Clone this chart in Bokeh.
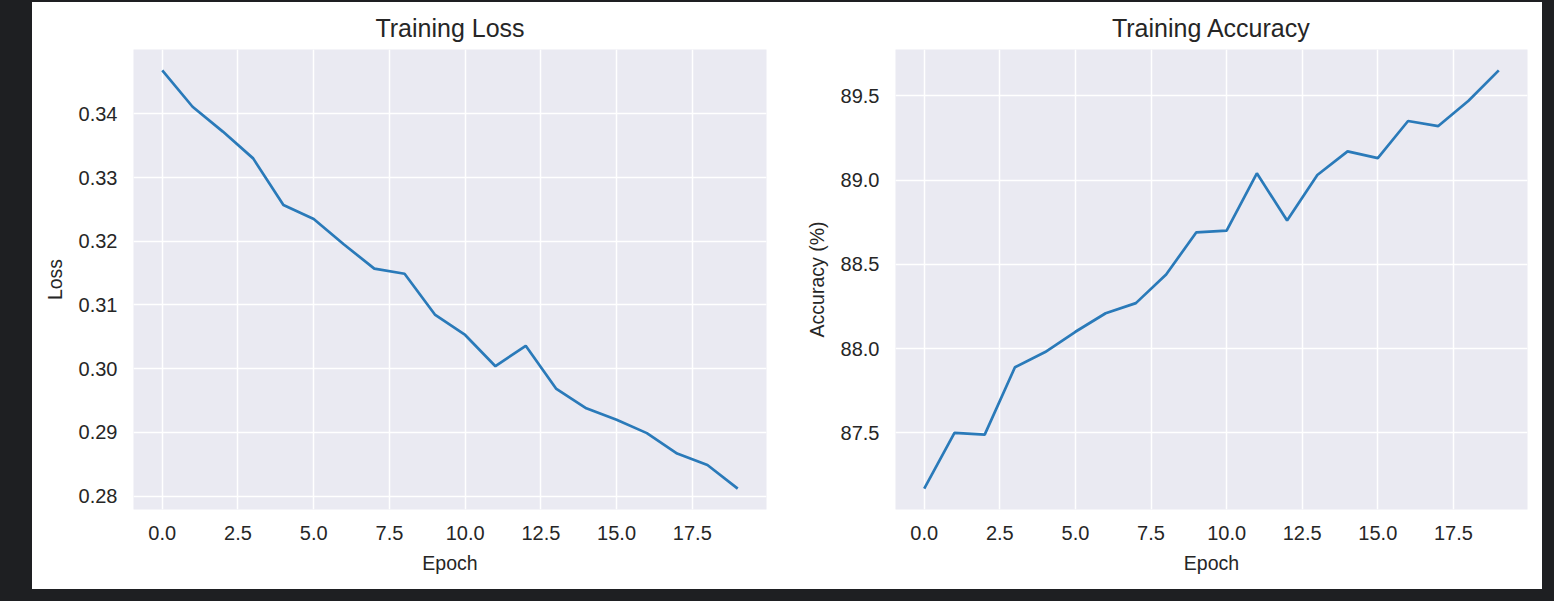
from bokeh.plotting import figure
from bokeh.layouts import row
from bokeh.models import Range1d, FixedTicker, NumeralTickFormatter, GlobalInlineStyleSheet
from bokeh.embed import file_html
from bokeh.resources import INLINE

epochs = list(range(20))
loss = [0.3468, 0.3411, 0.3372, 0.3330, 0.3257, 0.3235, 0.3195, 0.3157, 0.3149, 0.3085,
        0.3053, 0.3004, 0.3036, 0.2969, 0.2938, 0.2920, 0.2899, 0.2867, 0.2849, 0.2812]
acc = [87.17, 87.50, 87.49, 87.89, 87.98, 88.10, 88.21, 88.27, 88.44, 88.69,
       88.70, 89.04, 88.76, 89.03, 89.17, 89.13, 89.35, 89.32, 89.47, 89.65]
x_ticks = [0.0, 2.5, 5.0, 7.5, 10.0, 12.5, 15.0, 17.5]
loss_ticks = [0.28, 0.29, 0.30, 0.31, 0.32, 0.33, 0.34]
acc_ticks = [87.5, 88.0, 88.5, 89.0, 89.5]

FONT = "Liberation Sans"
TXT = "#262626"
LINE = "#2a7ab9"


def padded(vals, frac=0.05):
    lo, hi = min(vals), max(vals)
    d = (hi - lo) * frac
    return Range1d(lo - d, hi + d)


def make(title, ylabel, ys, yticks, yfmt, width, mbl, mbr):
    p = figure(width=width, height=587, output_backend="svg", toolbar_location=None,
               x_range=padded(epochs), y_range=padded(ys),
               min_border_left=mbl, min_border_right=mbr, min_border_top=47, min_border_bottom=80,
               background_fill_color="#eaeaf2", border_fill_color="white")
    p.outline_line_color = None
    p.outline_line_alpha = 0
    p.title.text = title
    p.title.align = "center"
    p.title.text_font = FONT
    p.title.text_font_size = "25px"
    p.title.text_font_style = "normal"
    p.title.text_color = TXT
    p.title.standoff = 16
    p.line(epochs, ys, line_color=LINE, line_width=2.7)
    for ax in (p.xaxis, p.yaxis):
        ax.axis_line_color = None
        ax.major_tick_line_color = None
        ax.minor_tick_line_color = None
        ax.major_label_text_font = FONT
        ax.major_label_text_font_size = "20px"
        ax.major_label_text_color = TXT
        ax.axis_label_text_font = FONT
        ax.axis_label_text_font_size = "19.5px"
        ax.axis_label_text_font_style = "normal"
        ax.axis_label_text_color = TXT
    p.xaxis.ticker = FixedTicker(ticks=x_ticks)
    p.xaxis.formatter = NumeralTickFormatter(format="0.0")
    p.xaxis.axis_label = "Epoch"
    p.xaxis.major_label_standoff = 10
    p.xaxis.axis_label_standoff = 9
    p.yaxis.ticker = FixedTicker(ticks=yticks)
    p.yaxis.formatter = NumeralTickFormatter(format=yfmt)
    p.yaxis.axis_label = ylabel
    p.yaxis.major_label_standoff = 10
    p.yaxis.axis_label_standoff = 10
    p.yaxis.major_label_orientation = "horizontal"
    for g in (p.xgrid, p.ygrid):
        g.grid_line_color = "white"
        g.grid_line_width = 1.5
    return p


p1 = make("Training Loss", "Loss", loss, loss_ticks, "0.00", 768, 101, 34)
p2 = make("Training Accuracy", "Accuracy (%)", acc, acc_ticks, "0.0", 742, 95, 15)

css = GlobalInlineStyleSheet(css="html, body { margin: 0; background: #1e1f22; } body { padding: 2px 0 0 32px; }")
layout = row(p1, p2, stylesheets=[css], styles={"background-color": "white"})

open("out.html", "w").write(file_html(layout, INLINE))
